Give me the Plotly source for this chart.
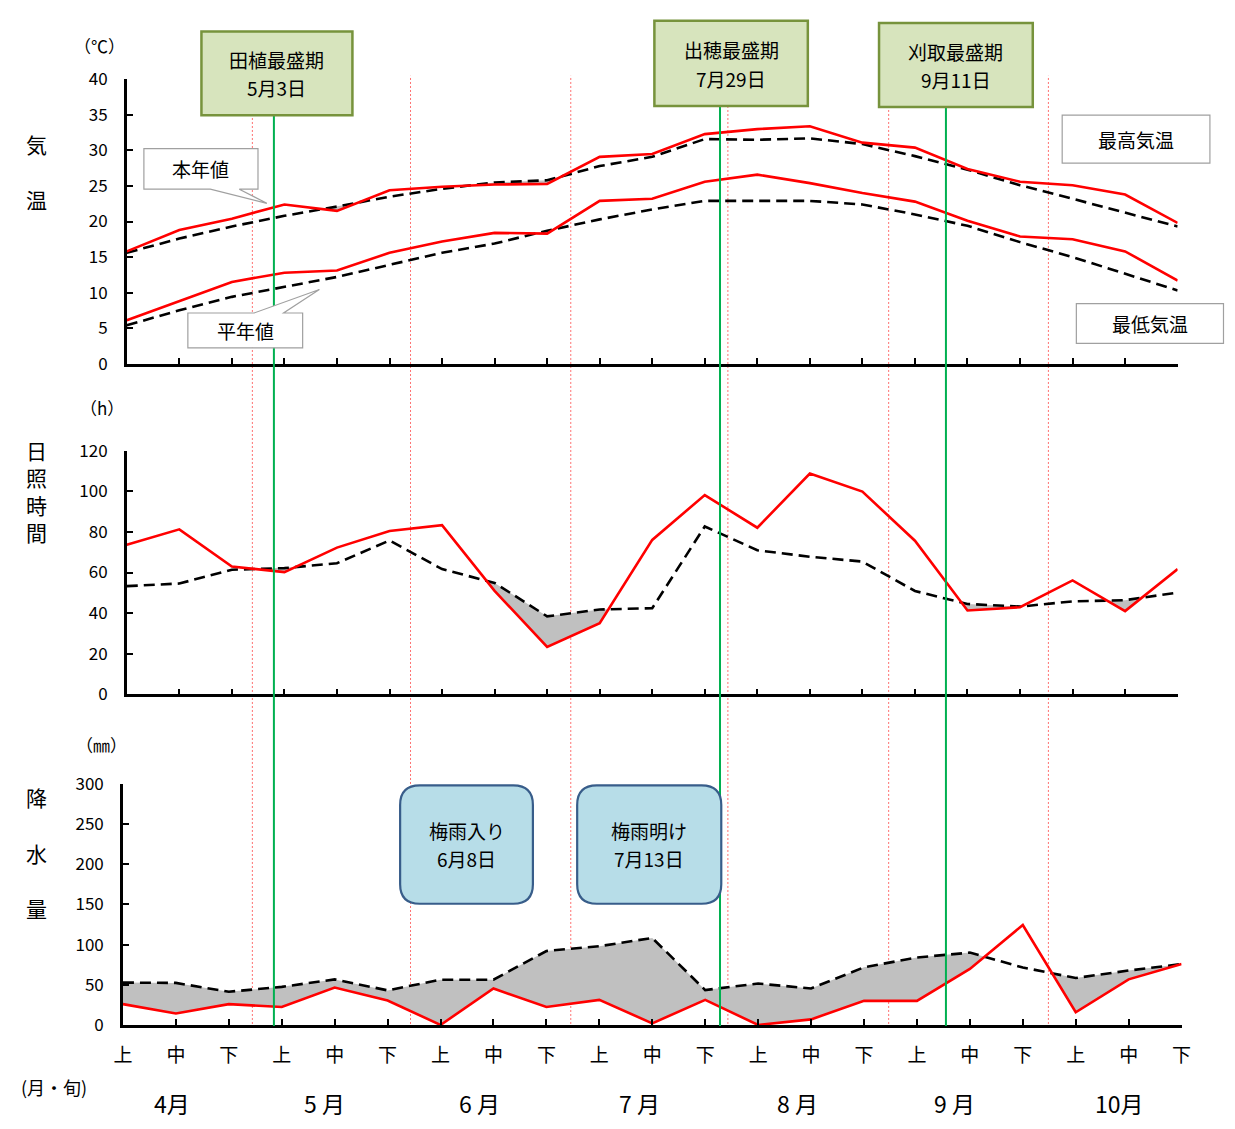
import plotly.graph_objects as go

W, H = 1219, 1113   # page body adds an 8px margin on each side
OFF = 8
FONT = "Noto Sans CJK JP"

# ---------------- data ----------------
dekads = ["上", "中", "下"] * 7
months = ["4月", "5 月", "6 月", "7 月", "8 月", "9 月", "10月"]

tmax_now = [15.8, 18.8, 20.4, 22.4, 21.5, 24.4, 24.9, 25.2, 25.3, 29.1, 29.5,
            32.3, 33.0, 33.4, 31.1, 30.4, 27.4, 25.6, 25.1, 23.8, 19.8]
tmax_norm = [15.6, 17.6, 19.3, 20.8, 22.1, 23.5, 24.6, 25.5, 25.8, 27.8, 29.1,
             31.6, 31.5, 31.7, 30.9, 29.2, 27.3, 25.1, 23.2, 21.2, 19.3]
tmin_now = [6.1, 8.8, 11.5, 12.8, 13.1, 15.6, 17.2, 18.4, 18.3, 22.9, 23.2,
            25.6, 26.6, 25.4, 24.0, 22.8, 20.1, 17.9, 17.5, 15.8, 11.7]
tmin_norm = [5.4, 7.5, 9.4, 10.8, 12.2, 13.9, 15.6, 16.9, 18.7, 20.3, 21.7,
             22.9, 22.9, 22.9, 22.4, 21.0, 19.4, 17.1, 15.0, 12.7, 10.3]

sun_now = [73.7, 81.3, 63.0, 60.2, 72.3, 80.5, 83.4, 51.0, 23.3, 35.0, 76.1,
           98.2, 82.1, 108.8, 99.9, 75.7, 41.3, 42.9, 56.1, 41.0, 61.7]
sun_norm = [53.3, 54.6, 61.4, 62.2, 64.6, 75.8, 61.7, 54.9, 38.4, 41.8, 42.4,
            82.7, 71.0, 67.8, 65.4, 50.9, 44.5, 43.2, 45.8, 46.4, 50.1]

rain_now = [25.9, 14.2, 25.9, 22.3, 46.6, 30.4, 0.0, 45.4, 22.3, 31.2, 2.0,
            31.2, 0.0, 6.9, 30.0, 30.0, 69.7, 124.4, 15.8, 56.7, 75.8]
rain_norm = [52.7, 52.3, 41.3, 47.4, 56.7, 43.0, 56.3, 56.3, 92.0, 98.0, 108.2,
             43.4, 51.5, 45.4, 71.7, 83.9, 90.0, 71.5, 58.4, 67.7, 75.8]

# event positions (in dekad index units)
month_sep_x = [2.39, 5.40, 8.45, 11.44, 14.50, 17.54]
event_x = [2.80, 11.29, 15.59]
event_names = ["田植最盛期", "出穂最盛期", "刈取最盛期"]
event_dates = ["5月3日", "7月29日", "9月11日"]
tsuyu_names = ["梅雨入り", "梅雨明け"]
tsuyu_dates = ["6月8日", "7月13日"]

xs = list(range(len(dekads)))


def X(p):
    return (p - OFF) / W


def Y(p):
    return 1 - (p - OFF) / H


def below_regions(x, act, nor):
    pts = []
    for i in range(len(x)):
        pts.append((x[i], act[i], nor[i]))
        if i < len(x) - 1:
            d0 = nor[i] - act[i]
            d1 = nor[i + 1] - act[i + 1]
            if d0 * d1 < 0:
                t = d0 / (d0 - d1)
                xc = x[i] + t * (x[i + 1] - x[i])
                yc = act[i] + t * (act[i + 1] - act[i])
                pts.append((xc, yc, yc))
    regions, cur = [], []
    for p in pts:
        if p[2] - p[1] >= 0:
            cur.append(p)
        else:
            if len(cur) > 1:
                regions.append(cur)
            cur = []
    if len(cur) > 1:
        regions.append(cur)
    return regions


fig = go.Figure()


def add_panel(act, nor, xa, ya):
    for reg in below_regions(xs, act, nor):
        px_ = [p[0] for p in reg] + [p[0] for p in reversed(reg)]
        py_ = [p[2] for p in reg] + [p[1] for p in reversed(reg)]
        fig.add_trace(go.Scatter(x=px_, y=py_, fill="toself", fillcolor="#c0c0c0",
                                 line=dict(width=0), mode="lines", xaxis=xa, yaxis=ya,
                                 hoverinfo="skip", showlegend=False))
    fig.add_trace(go.Scatter(x=xs, y=nor, mode="lines", xaxis=xa, yaxis=ya,
                             line=dict(color="black", width=2.6, dash="11px,6px"),
                             showlegend=False))
    fig.add_trace(go.Scatter(x=xs, y=act, mode="lines", xaxis=xa, yaxis=ya,
                             line=dict(color="#ff0000", width=2.6),
                             showlegend=False))


add_panel(tmax_now, tmax_norm, "x", "y")
add_panel(tmin_now, tmin_norm, "x", "y")
add_panel(sun_now, sun_norm, "x2", "y2")
add_panel(rain_now, rain_norm, "x3", "y3")

axis_common = dict(showline=True, linecolor="black", linewidth=2.5, ticks="inside",
                   ticklen=6, tickwidth=2, tickcolor="black", showgrid=False,
                   zeroline=False, fixedrange=True)
xdom_a = [X(118.6), X(1187)]
xdom_b = [X(114.7), X(1191)]
tickfont = dict(family=FONT, size=17, color="black")

fig.update_layout(
    width=W, height=H, margin=dict(l=0, r=0, t=0, b=0),
    paper_bgcolor="white", plot_bgcolor="rgba(0,0,0,0)",
    xaxis=dict(domain=xdom_a, range=[0, 20], tickvals=xs, showticklabels=False,
               anchor="y", **axis_common),
    yaxis=dict(domain=[Y(357.5), Y(66.7)], range=[0, 40], dtick=5, anchor="x",
               tickfont=tickfont, ticklabelstandoff=13, **axis_common),
    xaxis2=dict(domain=xdom_a, range=[0, 20], tickvals=xs, showticklabels=False,
                anchor="y2", **axis_common),
    yaxis2=dict(domain=[Y(695.7), Y(446.7)], range=[0, 120], dtick=20, anchor="x2",
                tickfont=tickfont, ticklabelstandoff=13, **axis_common),
    xaxis3=dict(domain=xdom_b, range=[0, 20], tickvals=xs, ticktext=dekads,
                anchor="y3", tickfont=dict(family=FONT, size=19, color="black"),
                ticklabelstandoff=11, **axis_common),
    yaxis3=dict(domain=[Y(1034), Y(787.3)], range=[0, 300], dtick=50, anchor="x3",
                tickfont=tickfont, ticklabelstandoff=13, **axis_common),
)

shapes = []
annotations = []

# red dotted month separators
for sx in month_sep_x:
    shapes.append(dict(type="line", xref="x", yref="paper", x0=sx, x1=sx,
                       y0=Y(1033), y1=Y(63), layer="below",
                       line=dict(color="#ff7070", width=1, dash="2px,2px")))

# green event lines
green_top = [103, 93, 95]
for ex, gt in zip(event_x, green_top):
    shapes.append(dict(type="line", xref="x", yref="paper", x0=ex, x1=ex,
                       y0=Y(1035), y1=Y(gt), layer="above",
                       line=dict(color="#00b050", width=2)))

# green event boxes
gboxes = [(194.5, 17.7, 348, 103.3), (655, 6.7, 811, 94), (883.4, 9, 1039.7, 95)]
for (x0, y0, x1, y1), nm, dt in zip(gboxes, event_names, event_dates):
    shapes.append(dict(type="rect", xref="paper", yref="paper", x0=X(x0), x1=X(x1),
                       y0=Y(y1), y1=Y(y0), fillcolor="#d7e4bd", layer="above",
                       line=dict(color="#77933c", width=2.5)))
    cx = (x0 + x1) / 2
    cy = (y0 + y1) / 2
    annotations.append(dict(x=X(cx), y=Y(cy - 14), text=nm))
    annotations.append(dict(x=X(cx), y=Y(cy + 15), text=dt))

# legend boxes
for (x0, y0, x1, y1), t in [((1069.6, 103.3, 1219.8, 152.3), "最高気温"),
                            ((1084, 296, 1233.6, 336.7), "最低気温")]:
    shapes.append(dict(type="rect", xref="paper", yref="paper", x0=X(x0), x1=X(x1),
                       y0=Y(y1), y1=Y(y0), fillcolor="white", layer="above",
                       line=dict(color="#a0a0a0", width=1.2)))
    annotations.append(dict(x=X((x0 + x1) / 2), y=Y((y0 + y1) / 2), text=t))


def path_of(pts):
    return "M " + " L ".join(f"{X(a):.5f},{Y(b):.5f}" for a, b in pts) + " Z"


# callout 本年値 (pointer at bottom, toward lower right)
c1 = [(136, 137.5), (252, 137.5), (252, 179), (233, 179), (261, 193.5),
      (203.5, 179), (136, 179)]
shapes.append(dict(type="path", xref="paper", yref="paper", path=path_of(c1),
                   fillcolor="white", layer="above", line=dict(color="#a0a0a0", width=1.2)))
annotations.append(dict(x=X(194), y=Y(158.3), text="本年値"))

# callout 平年値 (pointer at top, toward upper right)
c2 = [(180.7, 305.7), (248, 305.7), (314.4, 281.7), (278, 305.7), (297.4, 305.7),
      (297.4, 341.3), (180.7, 341.3)]
shapes.append(dict(type="path", xref="paper", yref="paper", path=path_of(c2),
                   fillcolor="white", layer="above", line=dict(color="#a0a0a0", width=1.2)))
annotations.append(dict(x=X(239), y=Y(323.5), text="平年値"))


# rounded blue boxes
def rounded(x0, y0, x1, y1, r):
    return (f"M {X(x0 + r)},{Y(y0)} L {X(x1 - r)},{Y(y0)} Q {X(x1)},{Y(y0)} {X(x1)},{Y(y0 + r)} "
            f"L {X(x1)},{Y(y1 - r)} Q {X(x1)},{Y(y1)} {X(x1 - r)},{Y(y1)} "
            f"L {X(x0 + r)},{Y(y1)} Q {X(x0)},{Y(y1)} {X(x0)},{Y(y1 - r)} "
            f"L {X(x0)},{Y(y0 + r)} Q {X(x0)},{Y(y0)} {X(x0 + r)},{Y(y0)} Z")


bboxes = [(396.5, 789, 531.5, 910), (576.5, 789, 723, 910)]
for (x0, y0, x1, y1), nm, dt in zip(bboxes, tsuyu_names, tsuyu_dates):
    shapes.append(dict(type="path", xref="paper", yref="paper",
                       path=rounded(x0, y0, x1, y1, 20), fillcolor="#b7dde8",
                       layer="above", line=dict(color="#385d8a", width=2.2)))
    cx = (x0 + x1) / 2
    annotations.append(dict(x=X(cx), y=Y(835), text=nm))
    annotations.append(dict(x=X(cx), y=Y(864), text=dt))

# axis titles (vertical Japanese)
side = [(27, 133, "気"), (27, 189, "温"), (27, 801, "降"), (27, 858, "水"), (27, 914, "量")]
for sx, sy, t in side:
    annotations.append(dict(x=X(sx), y=Y(sy), text=t, font=dict(family=FONT, size=21, color="black")))
annotations.append(dict(x=X(27), y=Y(487.5), text="日<br>照<br>時<br>間",
                        font=dict(family=FONT, size=21, color="black")))

# units
for ux, uy, t in [(91, 32, "（℃）"), (93, 402, "（h）"), (93, 747, "（㎜）")]:
    annotations.append(dict(x=X(ux), y=Y(uy), text=t, font=dict(family=FONT, size=17, color="black")))

annotations.append(dict(x=X(9), y=Y(1097), text="(月・旬)", xanchor="left",
                        font=dict(family=FONT, size=18, color="black")))

month_px = [165, 320, 477, 640, 800, 960, 1128]
for mx, mt in zip(month_px, months):
    annotations.append(dict(x=X(mx), y=Y(1114), text=mt, font=dict(family=FONT, size=23, color="black")))

for a in annotations:
    a.setdefault("font", dict(family=FONT, size=19, color="black"))
    a.setdefault("xanchor", "center")
    a.update(xref="paper", yref="paper", showarrow=False, yanchor="middle")

fig.update_layout(shapes=shapes, annotations=annotations)
fig.write_html("out.html")
